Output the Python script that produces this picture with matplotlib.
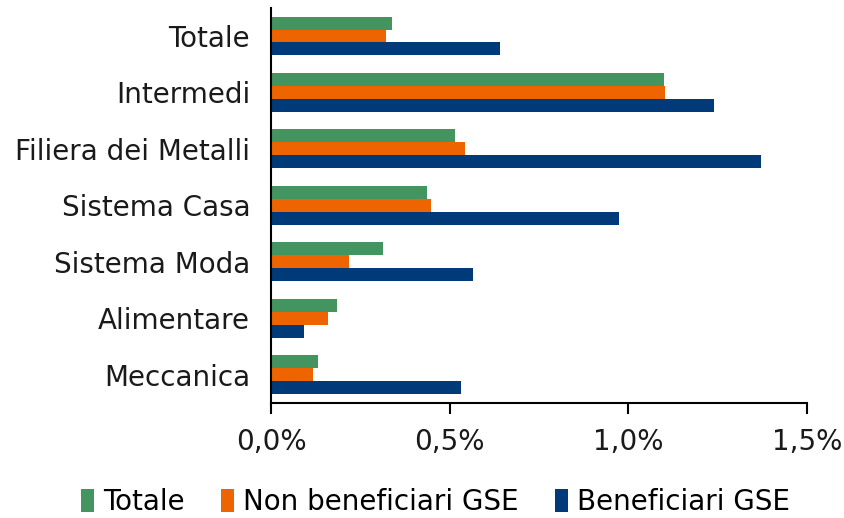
import numpy as np
import matplotlib
matplotlib.use("Agg")
import matplotlib.pyplot as plt
from matplotlib.ticker import FuncFormatter

categories = ["Totale", "Intermedi", "Filiera dei Metalli", "Sistema Casa",
              "Sistema Moda", "Alimentare", "Meccanica"]
totale = [0.339, 1.100, 0.515, 0.437, 0.313, 0.185, 0.132]
non_beneficiari = [0.322, 1.103, 0.543, 0.448, 0.218, 0.160, 0.118]
beneficiari = [0.641, 1.240, 1.371, 0.974, 0.565, 0.092, 0.532]

plt.rcParams["font.family"] = ["DejaVu Sans"]

fig = plt.figure(figsize=(8.45, 5.18), dpi=100)
ax = fig.add_axes([0.3207, 0.222, 0.955 - 0.3207, 0.763])

y = np.arange(len(categories))[::-1]
h = 0.23
ax.barh(y + h, totale, height=h, color="#43945E", label="Totale")
ax.barh(y, non_beneficiari, height=h, color="#EE6400", label="Non beneficiari GSE")
ax.barh(y - h, beneficiari, height=h, color="#003A78", label="Beneficiari GSE")

ax.set_yticks(y)
ax.set_yticklabels(categories, fontsize=20, color="#1a1a1a")
ax.tick_params(axis="y", length=0, pad=15)
ax.set_ylim(-0.5, len(categories) - 0.5)

ax.set_xlim(0, 1.5)
ax.set_xticks([0, 0.5, 1.0, 1.5])
ax.xaxis.set_major_formatter(FuncFormatter(lambda v, p: f"{v:.1f}%".replace(".", ",")))
ax.tick_params(axis="x", labelsize=20, length=8, width=1.5, direction="out", pad=10,
               labelcolor="#1a1a1a")

for s in ["top", "right"]:
    ax.spines[s].set_visible(False)
ax.spines["left"].set_linewidth(1.5)
ax.spines["bottom"].set_linewidth(1.5)

fig.legend(loc="lower center", ncol=3, frameon=False, fontsize=20,
           bbox_to_anchor=(0.515, -0.045), handlelength=0.5, handleheight=0.9,
           handletextpad=0.3, columnspacing=1.3)

fig.savefig("out.png", dpi=100)
